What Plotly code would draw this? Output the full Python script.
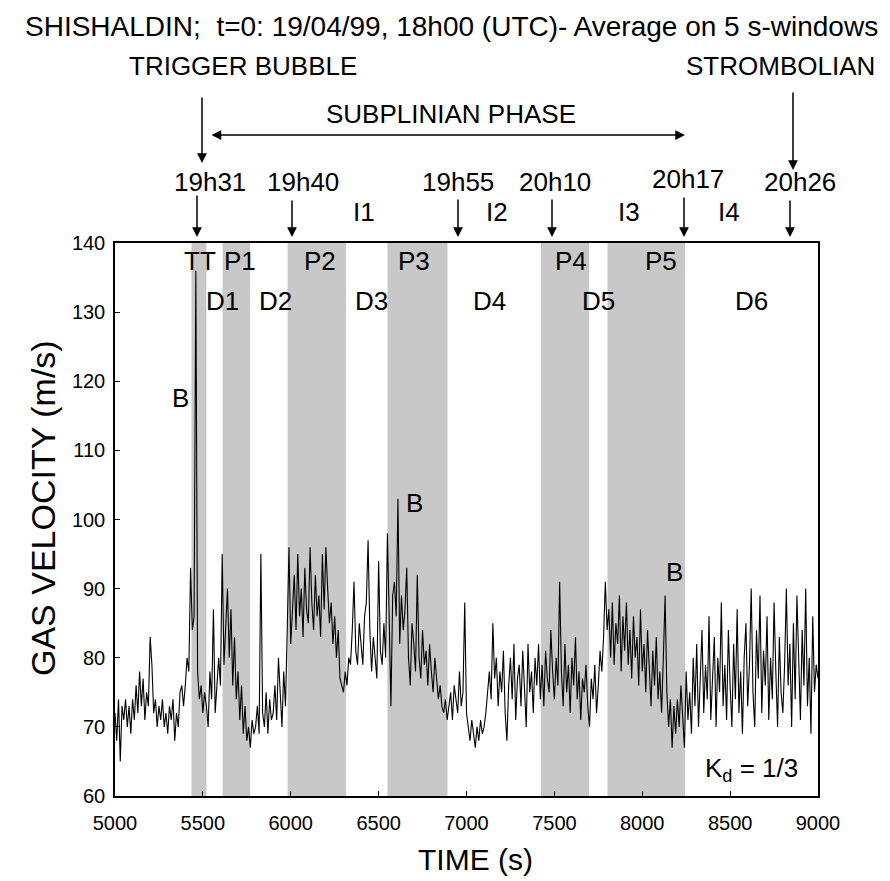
import plotly.graph_objects as go

# ---------------- data ----------------
t_start = 5000
t_step = 10
velocity = [
    72, 68, 74, 65, 73, 71, 74, 70, 73, 69,   # 5000
    74, 71, 76, 72, 78, 73, 77, 71, 75, 73,   # 5100
    83, 79, 72, 74, 70, 73, 71, 74, 70, 72,   # 5200
    69, 73, 71, 74, 68, 72, 70, 75, 76, 73,   # 5300
    76, 80, 78, 93, 84, 86, 136, 78, 74, 76,  # 5400
    72, 75, 73, 70, 78, 74, 87, 72, 76, 80,   # 5500
    76, 95, 79, 85, 90, 80, 87, 76, 83, 74,   # 5600
    78, 71, 76, 69, 73, 68, 70, 67, 71, 69,   # 5700
    70, 73, 69, 95, 72, 70, 75, 69, 74, 71,   # 5800
    72, 76, 71, 80, 74, 70, 78, 73, 84, 96,   # 5900
    82, 88, 92, 84, 95, 86, 90, 83, 93, 87,   # 6000
    85, 96, 88, 84, 92, 86, 89, 83, 95, 87,   # 6100
    96, 90, 85, 88, 82, 86, 80, 84, 77, 76,   # 6200
    75, 78, 76, 80, 79, 84, 91, 81, 79, 85,   # 6300
    82, 79, 86, 88, 97, 84, 78, 83, 80, 77,   # 6400
    94, 81, 79, 85, 80, 98, 86, 73, 89, 91,   # 6500
    86, 103, 82, 89, 84, 87, 93, 80, 76, 85,  # 6600
    82, 78, 92, 80, 77, 84, 79, 81, 76, 82,   # 6700
    78, 75, 80, 77, 74, 76, 73, 72, 74, 71,   # 6800
    73, 75, 71, 76, 74, 72, 78, 73, 75, 88,   # 6900
    72, 70, 68, 71, 69, 67, 70, 68, 71, 69,   # 7000
    70, 72, 75, 78, 74, 85, 77, 80, 73, 78,   # 7100
    75, 81, 72, 68, 76, 80, 74, 82, 71, 77,   # 7200
    79, 73, 81, 76, 70, 82, 75, 78, 72, 80,   # 7300
    76, 82, 74, 79, 73, 81, 77, 75, 84, 78,   # 7400
    74, 80, 76, 91, 78, 73, 82, 75, 79, 72,   # 7500
    80, 76, 83, 74, 78, 71, 77, 75, 79, 73,   # 7600
    70, 77, 74, 79, 72, 76, 81, 78, 83, 91,   # 7700
    84, 87, 80, 88, 79, 85, 82, 89, 78, 86,   # 7800
    81, 88, 79, 84, 77, 86, 80, 83, 76, 87,   # 7900
    78, 82, 75, 84, 79, 73, 81, 76, 83, 74,   # 8000
    78, 72, 80, 89, 75, 70, 74, 67, 73, 69,   # 8100
    74, 70, 76, 72, 67, 78, 71, 75, 69, 80,   # 8200
    73, 82, 70, 77, 84, 72, 79, 74, 86, 71,   # 8300
    78, 83, 70, 80, 75, 88, 73, 79, 71, 84,   # 8400
    76, 70, 82, 74, 87, 72, 78, 69, 80, 85,   # 8500
    73, 79, 90, 75, 70, 84, 77, 89, 72, 81,   # 8600
    76, 86, 71, 80, 74, 88, 78, 70, 83, 75,   # 8700
    72, 79, 90, 76, 82, 70, 85, 74, 89, 78,   # 8800
    71, 84, 76, 90, 73, 80, 69, 86, 75, 79,   # 8900
    77,                                       # 9000
]
time = [t_start + i * t_step for i in range(len(velocity))]

# shaded phases (s)
band_start = [5435, 5612, 5982, 6550, 7423, 7802]
band_end = [5520, 5769, 6315, 6892, 7698, 8244]

phase_labels = ["TT", "P1", "P2", "P3", "P4", "P5"]
decline_labels = ["D1", "D2", "D3", "D4", "D5", "D6"]

x_ticks = [5000, 5500, 6000, 6500, 7000, 7500, 8000, 8500, 9000]
y_ticks = [60, 70, 80, 90, 100, 110, 120, 130, 140]

clock_labels = ["19h31", "19h40", "19h55", "20h10", "20h17", "20h26"]
interval_labels = ["I1", "I2", "I3", "I4"]

# ---------------- layout helpers ----------------
W, H = 890, 881
L, R, T, B = 107, 810, 235, 788
FONT = "Liberation Sans, Arial, Helvetica, sans-serif"


def px(x):
    return (x - L) / (R - L)


def py(y):
    return (B - y) / (B - T)


fig = go.Figure()
fig.add_trace(go.Scatter(x=time, y=velocity, mode="lines",
                         line=dict(color="black", width=1.1),
                         showlegend=False, hoverinfo="x+y"))

for s, e in zip(band_start, band_end):
    fig.add_vrect(x0=s, x1=e, fillcolor="#c8c8c8", opacity=1,
                  line_width=0, layer="below")

ann = []


def text(x, y, s, size=26, xref="paper", yref="paper", angle=0):
    ann.append(dict(x=x, y=y, xref=xref, yref=yref, text=s, showarrow=False,
                    xanchor="center", yanchor="middle", textangle=angle,
                    font=dict(size=size, color="black", family=FONT)))


def arrow(xh, yh, ytail, xtail=None, both=False):
    a = dict(x=px(xh), y=py(yh), xref="paper", yref="paper", text="",
             showarrow=True, axref="pixel", ayref="pixel",
             ax=(0 if xtail is None else xtail - xh),
             ay=(ytail - yh), arrowhead=2, arrowsize=1.3,
             arrowwidth=1.5, arrowcolor="black")
    if both:
        a["arrowside"] = "end+start"
    ann.append(a)


# title & top labels
text(px(443), py(19), "SHISHALDIN;  t=0: 19/04/99, 18h00 (UTC)- Average on 5 s-windows", size=28)
text(px(235), py(58), "TRIGGER BUBBLE")
text(px(772), py(58), "STROMBOLIAN")
text(px(443), py(106), "SUBPLINIAN PHASE")
arrow(677, 127, 127, xtail=202, both=True)
arrow(194, 155, 88)
arrow(785, 162, 83)

clock_x = [202, 295, 450, 547, 680, 792]
clock_y = [174, 174, 174, 174, 171, 174]
for lab, cx, cy in zip(clock_labels, clock_x, clock_y):
    text(px(cx), py(cy), lab)

arrow_x = [189, 284, 450, 544, 676, 782]
arrow_top = [186, 191, 190, 190, 188, 191]
for ax_, at in zip(arrow_x, arrow_top):
    arrow(ax_, 229, at)

interval_x = [356, 489, 621, 721]
for lab, ix in zip(interval_labels, interval_x):
    text(px(ix), py(204), lab)

# in-plot labels (data coordinates)
phase_x = [5481, 5714, 6164, 6704, 7592, 8104]
for lab, x in zip(phase_labels, phase_x):
    text(x, 137.4, lab, xref="x", yref="y")
decline_x = [5612, 5913, 6459, 7131, 7751, 8622]
for lab, x in zip(decline_labels, decline_x):
    text(x, 131.6, lab, xref="x", yref="y")
for bx, by in [(5373, 117.6), (6704, 102.4), (8184, 92.4)]:
    text(bx, by, "B", xref="x", yref="y")
text(8622, 63.8, "K<sub>d</sub> = 1/3", xref="x", yref="y")

# axis titles
text(px(35), py(500), "GAS VELOCITY (m/s)", size=34, angle=-90)
text(px(467), py(851), "TIME (s)", size=30)

axis_common = dict(showline=True, linecolor="black", linewidth=1.5, mirror=True,
                   ticks="inside", ticklen=5, tickwidth=1, tickcolor="black",
                   showgrid=False, zeroline=False,
                   tickfont=dict(size=20, color="black", family=FONT))

fig.update_layout(
    width=W, height=H,
    margin=dict(l=L, r=W - R, t=T, b=H - B),
    paper_bgcolor="white", plot_bgcolor="white",
    xaxis=dict(range=[5000, 9000], tickvals=x_ticks, ticklabelstandoff=8, **axis_common),
    yaxis=dict(range=[60, 140], tickvals=y_ticks, ticklabelstandoff=4, **axis_common),
    annotations=ann,
    showlegend=False,
)

fig.write_html("out.html")
